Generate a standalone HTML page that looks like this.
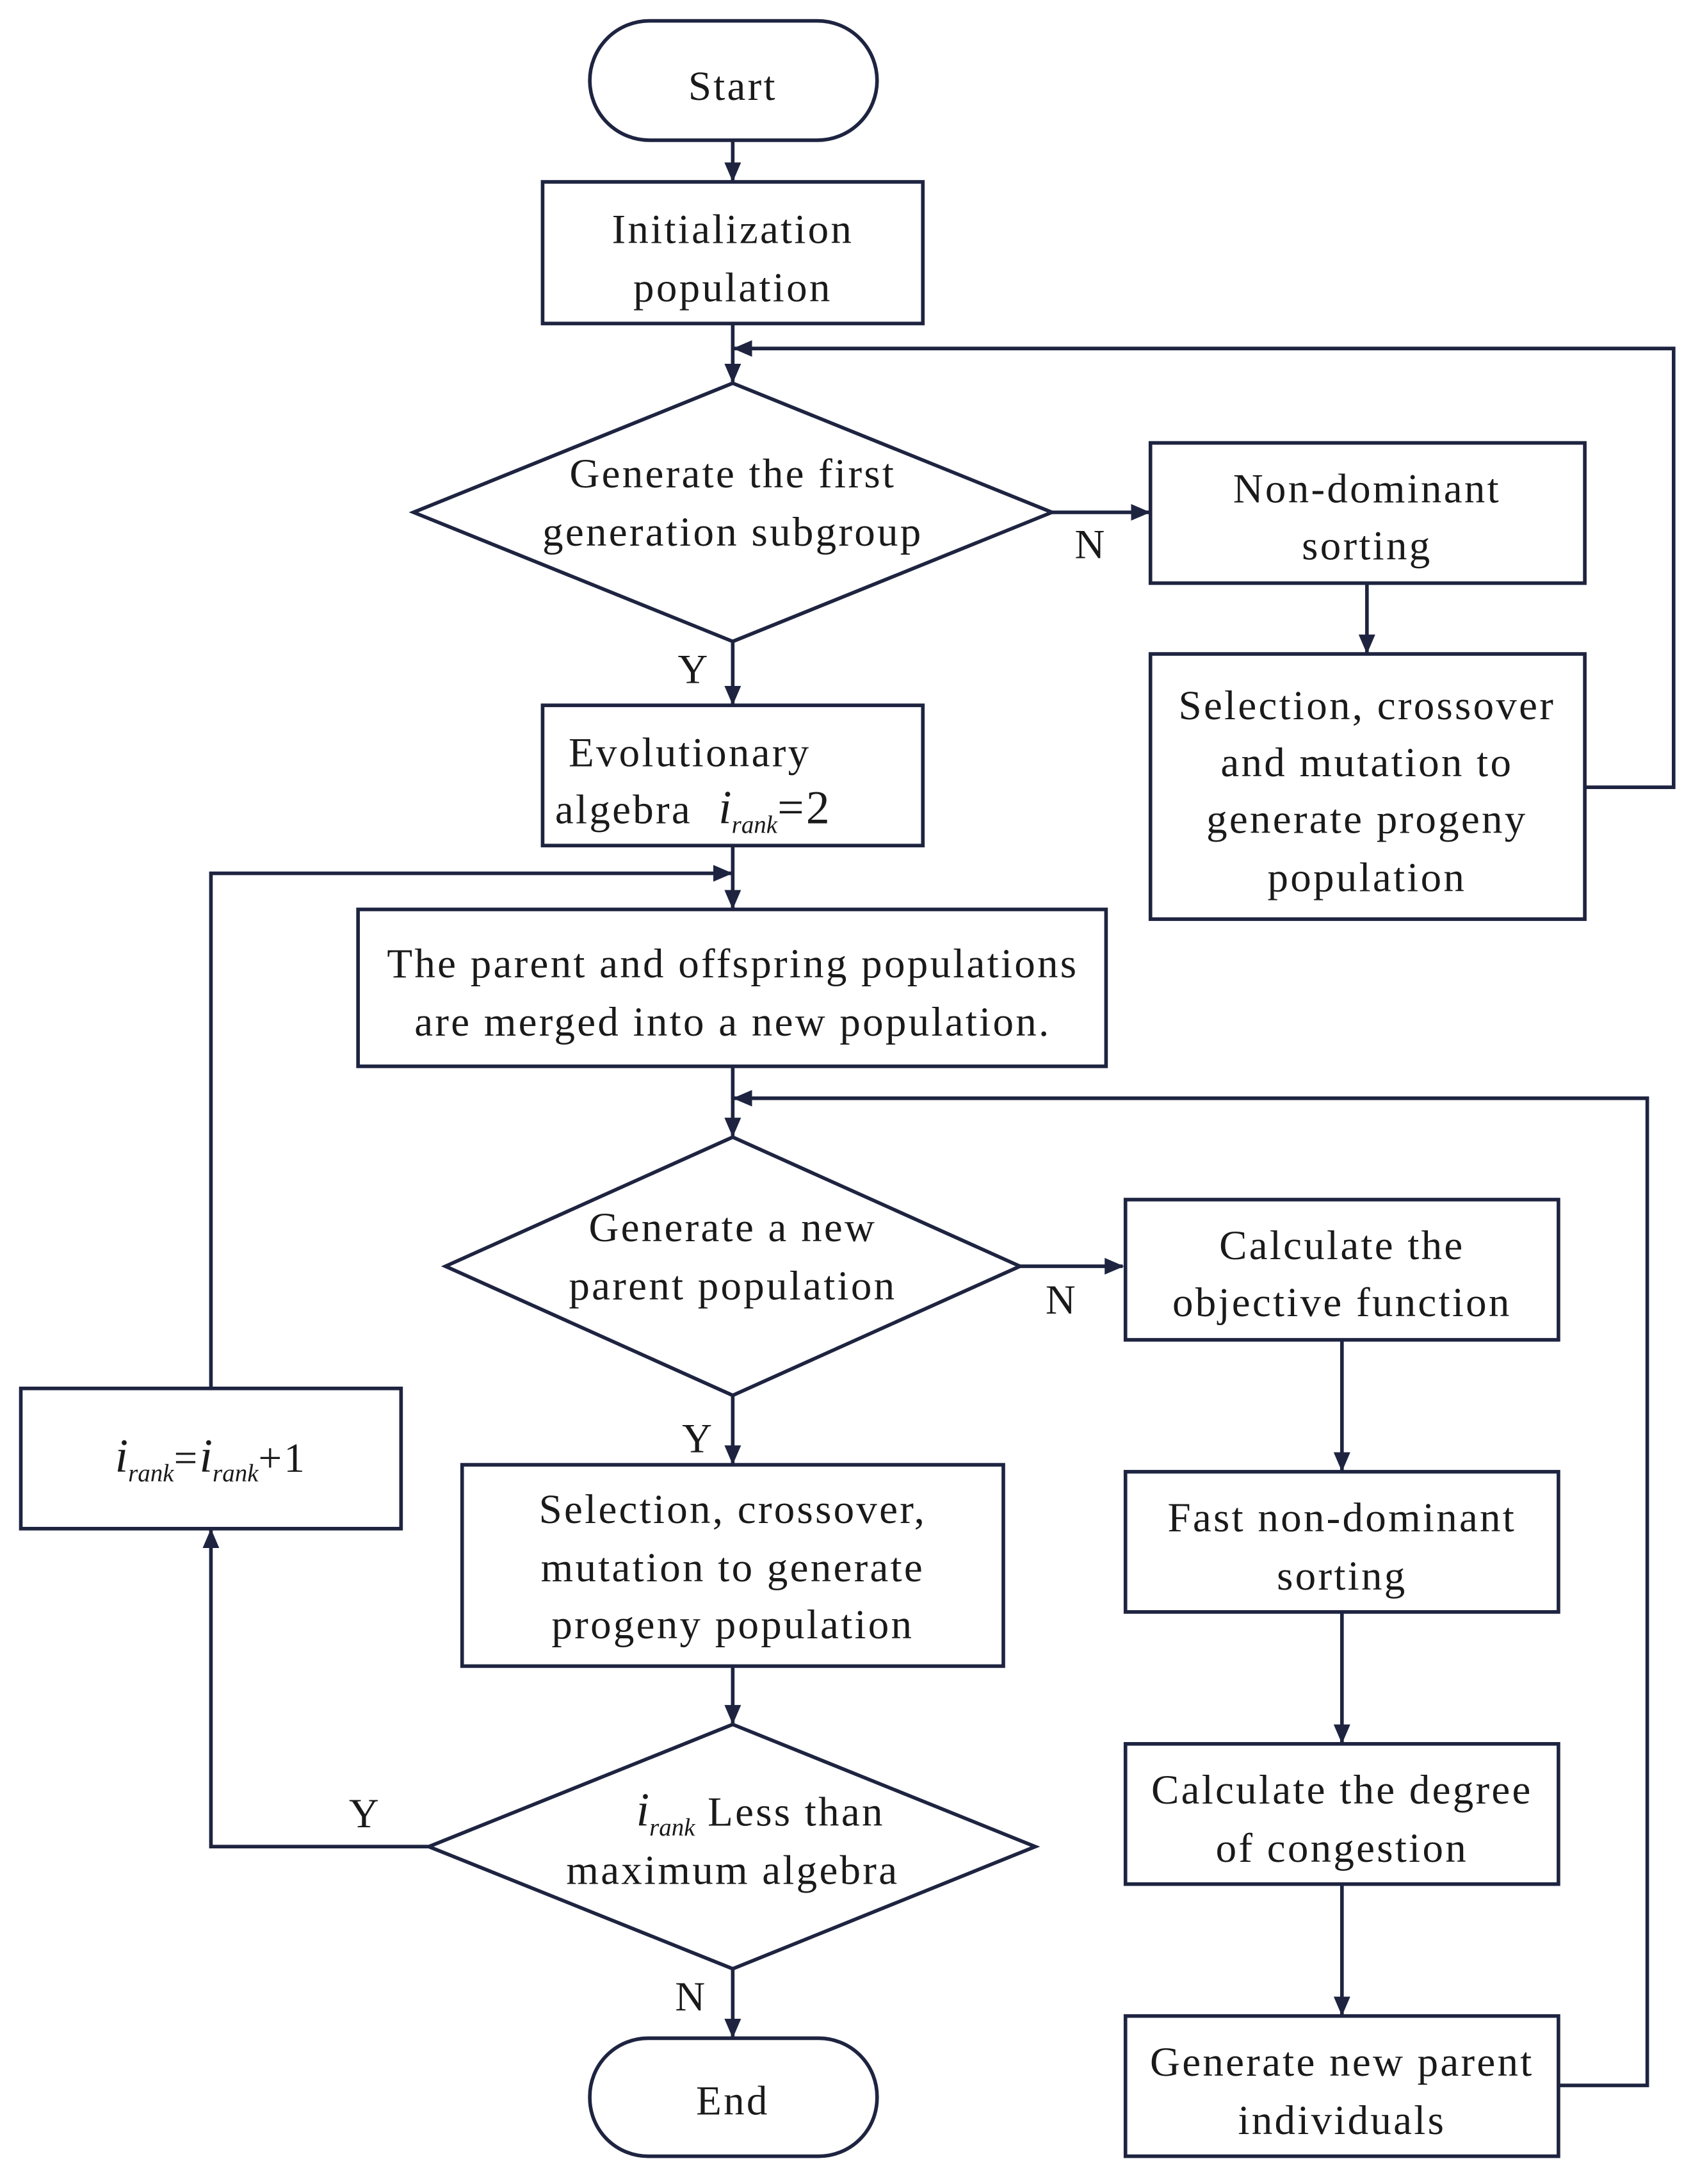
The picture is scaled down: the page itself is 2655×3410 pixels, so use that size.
<!DOCTYPE html>
<html><head><meta charset="utf-8"><style>
html,body{margin:0;padding:0;background:#fff;}
svg{display:block;}
text{font-family:"Liberation Serif",serif;font-size:30px;letter-spacing:1.5px;fill:#1a1a1a;text-anchor:middle;}
.s{fill:none;stroke:#1e2440;stroke-width:2.6;}
.b{fill:#fff;stroke:#1e2440;stroke-width:2.6;}
.i{font-style:italic;letter-spacing:0;}
</style></head><body>
<svg width="2655" height="3410" viewBox="0 0 1225 1573" preserveAspectRatio="none">
<defs><marker id="m" markerWidth="14" markerHeight="12" refX="13" refY="6" orient="auto" markerUnits="userSpaceOnUse"><path d="M0,0 L14,6 L0,12 z" fill="#1e2440"/></marker></defs>

<g class="s" marker-end="url(#m)">
<line x1="528" y1="101" x2="528" y2="130"/>
<line x1="528" y1="233" x2="528" y2="275"/>
<polyline points="1142,567 1206,567 1206,251 529,251"/>
<line x1="758" y1="369" x2="828" y2="369"/>
<line x1="985" y1="420" x2="985" y2="470"/>
<line x1="528" y1="462" x2="528" y2="507"/>
<line x1="528" y1="609" x2="528" y2="654"/>
<polyline points="152,1000 152,629 527,629"/>
<line x1="528" y1="768" x2="528" y2="818"/>
<polyline points="1123,1502 1187,1502 1187,791 529,791"/>
<line x1="735" y1="912" x2="809" y2="912"/>
<line x1="967" y1="965" x2="967" y2="1059"/>
<line x1="967" y1="1161" x2="967" y2="1255"/>
<line x1="967" y1="1357" x2="967" y2="1451"/>
<line x1="528" y1="1005" x2="528" y2="1054"/>
<line x1="528" y1="1200" x2="528" y2="1241"/>
<polyline points="309,1330 152,1330 152,1102"/>
<line x1="528" y1="1418" x2="528" y2="1467"/>
</g>

<rect class="b" x="425" y="15" width="207" height="86" rx="43"/>
<rect class="b" x="391" y="131" width="274" height="102"/>
<polygon class="b" points="528,276 758,369 528,462 298,369"/>
<rect class="b" x="829" y="319" width="313" height="101"/>
<rect class="b" x="829" y="471" width="313" height="191"/>
<rect class="b" x="391" y="508" width="274" height="101"/>
<rect class="b" x="258" y="655" width="539" height="113"/>
<polygon class="b" points="528,819 735,912 528,1005 321,912"/>
<rect class="b" x="811" y="864" width="312" height="101"/>
<rect class="b" x="811" y="1060" width="312" height="101"/>
<rect class="b" x="811" y="1256" width="312" height="101"/>
<rect class="b" x="811" y="1452" width="312" height="101"/>
<rect class="b" x="333" y="1055" width="390" height="145"/>
<polygon class="b" points="528,1242 746,1330 528,1418 309,1330"/>
<rect class="b" x="15" y="1000" width="274" height="101"/>
<rect class="b" x="425" y="1468" width="207" height="85" rx="42"/>

<text x="528" y="72">Start</text>
<text x="528" y="175">Initialization</text>
<text x="528" y="217">population</text>
<text x="528" y="351">Generate the first</text>
<text x="528" y="393">generation subgroup</text>
<text x="786" y="402">N</text>
<text x="985" y="362">Non-dominant</text>
<text x="985" y="403">sorting</text>
<text x="985" y="518">Selection, crossover</text>
<text x="985" y="559">and mutation to</text>
<text x="985" y="600">generate progeny</text>
<text x="985" y="642">population</text>
<text x="500" y="492">Y</text>
<text x="497" y="552">Evolutionary</text>
<text x="400" y="593" style="text-anchor:start">algebra <tspan class="i" font-size="34" dx="10">i</tspan><tspan class="i" font-size="18" dy="7">rank</tspan><tspan dy="-7" font-size="34">=2</tspan></text>
<text x="528" y="704">The parent and offspring populations</text>
<text x="528" y="746">are merged into a new population.</text>
<text x="528" y="894">Generate a new</text>
<text x="528" y="936">parent population</text>
<text x="765" y="946">N</text>
<text x="967" y="907">Calculate the</text>
<text x="967" y="948">objective function</text>
<text x="967" y="1103">Fast non-dominant</text>
<text x="967" y="1145">sorting</text>
<text x="967" y="1299">Calculate the degree</text>
<text x="967" y="1341">of congestion</text>
<text x="967" y="1495">Generate new parent</text>
<text x="967" y="1537">individuals</text>
<text x="503" y="1046">Y</text>
<text x="528" y="1097">Selection, crossover,</text>
<text x="528" y="1139">mutation to generate</text>
<text x="528" y="1180">progeny population</text>
<text x="548" y="1315"><tspan class="i" font-size="34">i</tspan><tspan class="i" font-size="18" dy="7">rank</tspan><tspan dy="-7"> Less than</tspan></text>
<text x="528" y="1357">maximum algebra</text>
<text x="263" y="1316">Y</text>
<text x="498" y="1448">N</text>
<text x="152" y="1060"><tspan class="i" font-size="34">i</tspan><tspan class="i" font-size="18" dy="7">rank</tspan><tspan dy="-7">=</tspan><tspan class="i" font-size="34">i</tspan><tspan class="i" font-size="18" dy="7">rank</tspan><tspan dy="-7">+1</tspan></text>
<text x="528" y="1523">End</text>
</svg>
</body></html>
